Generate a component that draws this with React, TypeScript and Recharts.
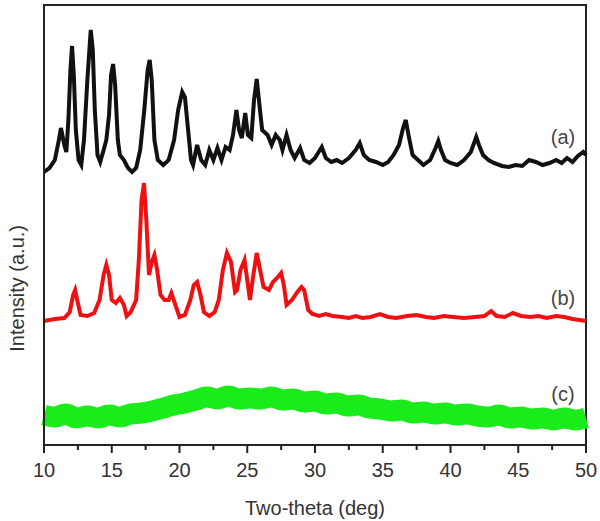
import { LineChart, Line, XAxis, YAxis, ReferenceDot, ReferenceArea } from 'recharts';

// two-theta (deg) / intensity (a.u., offset stacks)
const patternA: [number, number][] = [
  [10.0, 273], [10.4, 277], [10.8, 285], [11.1, 305], [11.25, 317], [11.5, 300], [11.65, 293],
  [11.8, 325], [11.95, 375], [12.07, 399], [12.2, 370], [12.35, 315], [12.55, 285], [12.75, 280],
  [12.95, 305], [13.2, 365], [13.45, 415], [13.6, 395], [13.75, 335], [13.95, 290], [14.15, 283],
  [14.4, 295], [14.6, 305], [14.8, 330], [14.95, 370], [15.1, 381], [15.25, 360], [15.45, 305],
  [15.6, 290], [15.9, 285], [16.2, 277], [16.5, 273], [16.8, 277], [17.1, 295], [17.4, 335],
  [17.65, 375], [17.8, 385], [17.95, 365], [18.15, 305], [18.4, 285], [18.8, 280], [19.2, 285],
  [19.6, 305], [19.9, 335], [20.2, 353], [20.4, 348], [20.6, 320], [20.85, 285], [21.0, 280],
  [21.3, 300], [21.6, 285], [21.9, 280], [22.2, 295], [22.5, 285], [22.8, 297], [23.1, 285],
  [23.4, 298], [23.7, 295], [23.95, 310], [24.2, 335], [24.4, 315], [24.6, 307], [24.85, 332],
  [25.05, 310], [25.3, 307], [25.5, 345], [25.7, 366], [25.9, 340], [26.1, 315], [26.5, 310],
  [26.8, 300], [27.1, 310], [27.4, 305], [27.6, 295], [27.9, 310], [28.2, 295], [28.5, 287],
  [28.9, 297], [29.2, 285], [29.6, 282], [30.0, 287], [30.5, 298], [30.8, 287], [31.2, 283],
  [31.6, 285], [32.0, 282], [32.5, 287], [33.0, 295], [33.3, 302], [33.6, 290], [34.0, 285],
  [34.5, 283], [35.0, 280], [35.4, 283], [35.8, 290], [36.2, 300], [36.5, 317], [36.7, 325],
  [36.9, 310], [37.2, 290], [37.6, 285], [38.0, 280], [38.5, 285], [38.9, 297], [39.1, 304],
  [39.3, 295], [39.6, 285], [40.0, 282], [40.5, 280], [41.0, 285], [41.5, 293], [41.9, 308],
  [42.1, 300], [42.4, 290], [42.8, 285], [43.2, 282], [43.8, 279], [44.3, 278], [44.8, 280],
  [45.3, 279], [45.8, 285], [46.3, 283], [46.8, 280], [47.3, 282], [47.8, 285], [48.2, 282],
  [48.6, 287], [49.0, 283], [49.4, 289], [49.8, 293], [50.0, 290],
];

const patternB: [number, number][] = [
  [10.0, 124], [10.8, 126], [11.5, 127], [11.9, 133], [12.15, 150], [12.3, 155], [12.45, 145],
  [12.7, 130], [13.2, 129], [13.7, 132], [14.1, 145], [14.4, 170], [14.6, 180], [14.8, 170],
  [15.0, 145], [15.3, 142], [15.6, 147], [15.9, 140], [16.1, 129], [16.4, 133], [16.8, 145],
  [17.0, 185], [17.2, 245], [17.38, 262], [17.55, 225], [17.75, 170], [17.95, 183], [18.15, 190],
  [18.35, 175], [18.6, 150], [18.9, 145], [19.2, 145], [19.4, 152], [19.7, 140], [20.0, 128],
  [20.4, 130], [20.8, 145], [21.05, 160], [21.3, 163], [21.55, 150], [21.8, 133], [22.2, 129],
  [22.6, 133], [22.9, 145], [23.2, 175], [23.5, 192], [23.8, 183], [24.1, 153], [24.25, 155],
  [24.5, 175], [24.8, 185], [25.0, 165], [25.2, 145], [25.45, 170], [25.7, 192], [25.95, 175],
  [26.2, 158], [26.6, 155], [26.9, 163], [27.2, 167], [27.5, 172], [27.7, 160], [27.9, 140],
  [28.3, 145], [28.7, 153], [29.0, 158], [29.2, 155], [29.5, 135], [29.8, 131], [30.3, 129],
  [30.8, 131], [31.3, 129], [32.0, 128], [32.5, 127], [33.0, 129], [33.5, 127], [34.1, 128],
  [34.8, 131], [35.4, 128], [36.0, 127], [36.8, 129], [37.5, 130], [38.2, 128], [38.8, 127],
  [39.5, 129], [40.2, 128], [41.0, 127], [41.8, 128], [42.5, 129], [43.0, 134], [43.4, 129],
  [44.0, 128], [44.6, 132], [45.2, 129], [45.9, 128], [46.5, 129], [47.1, 127], [47.8, 129],
  [48.4, 128], [49.0, 126], [49.5, 125], [50.0, 124],
];

const patternC: [number, number][] = [
  [10.0, 30], [10.8, 28], [11.6, 31], [12.4, 27], [13.2, 29], [14.0, 27], [14.8, 30], [15.6, 28],
  [16.4, 31], [17.2, 32], [18.0, 34], [18.8, 37], [19.6, 40], [20.4, 42], [21.2, 45], [22.0, 48],
  [22.8, 46], [23.6, 49], [24.4, 46], [25.2, 47], [26.0, 46], [26.8, 48], [27.6, 45], [28.4, 46],
  [29.2, 43], [30.0, 44], [30.8, 41], [31.6, 42], [32.4, 39], [33.2, 40], [34.0, 37], [34.8, 36],
  [35.6, 34], [36.4, 35], [37.2, 32], [38.0, 33], [38.8, 31], [39.6, 32], [40.4, 30], [41.2, 31],
  [42.0, 29], [42.8, 28], [43.6, 30], [44.4, 27], [45.2, 28], [46.0, 26], [46.8, 27], [47.6, 25],
  [48.4, 27], [49.2, 25], [50.0, 27],
];

const xTicks = [10, 12.5, 15, 17.5, 20, 22.5, 25, 27.5, 30, 32.5, 35, 37.5, 40, 42.5, 45, 47.5, 50];
const sampleLabels = ['(a)', '(b)', '(c)'];
const labelSpots = [308, 147, 51];

const toRows = (pts: [number, number][]) => pts.map(([x, y]) => ({ x, y }));
const axisColor = '#222';
const textColor = '#333';
const font = 'Arial, "Liberation Sans", sans-serif';

function BottomTick(props: any) {
  const { x, y, payload } = props;
  const major = payload.value % 5 === 0;
  return (
    <g>
      <line x1={x} x2={x} y1={y} y2={y + (major ? 8 : 5)} stroke={axisColor} strokeWidth={2} />
      {major && (
        <text x={x} y={y + 32} textAnchor="middle" fontSize={20} fill={textColor} fontFamily={font}>
          {payload.value}
        </text>
      )}
    </g>
  );
}

export default function App() {
  return (
    <div style={{ position: 'absolute', left: 0, top: 0, width: 600, height: 521, background: '#fff' }}>
      <LineChart width={600} height={521} margin={{ top: 5, right: 14, bottom: 46, left: 43 }}>
        <XAxis
          dataKey="x"
          type="number"
          domain={[10, 50]}
          ticks={xTicks}
          interval={0}
          height={30}
          tickSize={0}
          tickMargin={0}
          tick={<BottomTick />}
          stroke={axisColor}
          strokeWidth={2}
          allowDuplicatedCategory={false}
          label={{ value: 'Two-theta (deg)', position: 'insideBottom', offset: -40, fontSize: 20, fill: textColor, fontFamily: font }}
        />
        <YAxis
          type="number"
          domain={[0, 440]}
          width={1}
          tick={false}
          tickLine={false}
          stroke={axisColor}
          strokeWidth={2}
          label={{ value: 'Intensity (a.u.)', angle: -90, position: 'left', offset: 26, fontSize: 20, fill: textColor, fontFamily: font }}
        />

        <ReferenceArea x1={10} x2={50} y1={0} y2={440} fill="none" stroke={axisColor} strokeWidth={2} fillOpacity={0} />

        <Line data={toRows(patternC)} dataKey="y" type="monotone" stroke="#1aeb1a" strokeWidth={21} dot={false} isAnimationActive={false} />
        <Line data={toRows(patternB)} dataKey="y" type="linear" stroke="#ee1111" strokeWidth={4} dot={false} isAnimationActive={false} />
        <Line data={toRows(patternA)} dataKey="y" type="linear" stroke="#111" strokeWidth={4} dot={false} isAnimationActive={false} />

        {sampleLabels.map((s, i) => (
          <ReferenceDot
            key={s}
            x={48.3}
            y={labelSpots[i]}
            r={1}
            fill="none"
            stroke="none"
            label={{ value: s, position: 'center', fontSize: 20, fill: '#444', fontFamily: font }}
          />
        ))}
      </LineChart>
    </div>
  );
}
